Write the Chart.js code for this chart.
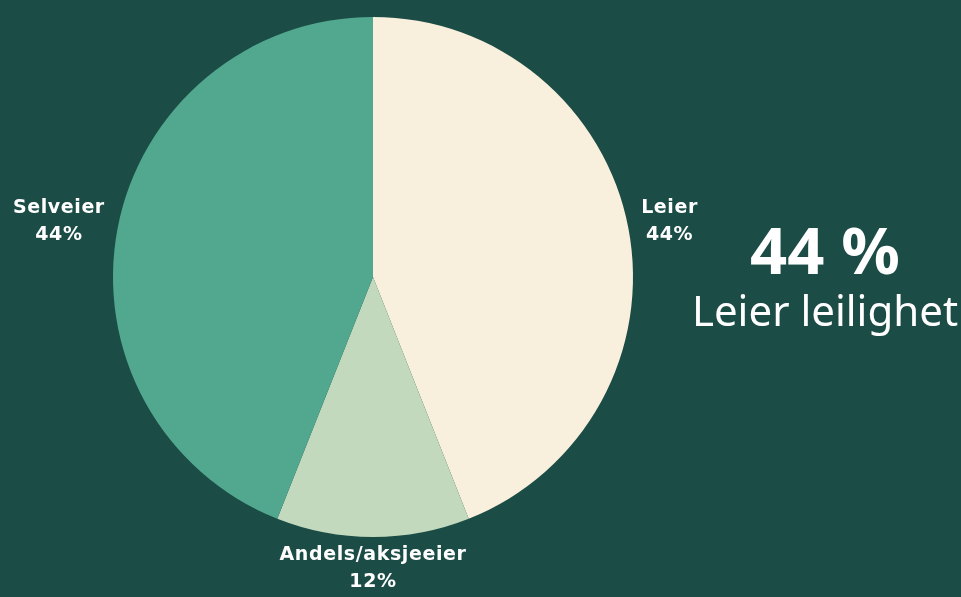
<!DOCTYPE html>
<html>
<head>
<meta charset="utf-8">
<script src="https://cdn.jsdelivr.net/npm/chart.js@4.4.1/dist/chart.umd.min.js"></script>
<style>
  html, body { margin: 0; padding: 0; background: #1b4c46; overflow: hidden; }
  #wrap { position: relative; width: 961px; height: 597px; }
  #big { position: absolute; left: 700px; top: 209px; width: 250px; text-align: center; color: #fff; font-family: "Noto Sans", sans-serif; }
  #big .num { font-size: 65px; font-weight: 700; line-height: 80px; }
  #big .sub { font-size: 42px; font-weight: 400; line-height: 50px; margin-left: -10px; width: 270px; margin-top: -4px; }
</style>
</head>
<body>
<div id="wrap">
  <canvas id="pieChart" width="961" height="597"></canvas>
  <div id="big"><div class="num">44 %</div><div class="sub">Leier leilighet</div></div>
</div>
<script>
// data
const labels = ['Leier', 'Andels/aksjeeier', 'Selveier'];
const values = [44, 12, 44];
const colors = ['#f8efdd', '#c2d9bd', '#52a78f'];

// draws "Label / NN%" just outside each slice
const outsideLabels = {
  id: 'outsideLabels',
  afterDatasetsDraw(chart) {
    const ctx = chart.ctx;
    const meta = chart.getDatasetMeta(0);
    ctx.save();
    ctx.font = 'bold 19px "DejaVu Sans", sans-serif';
    ctx.letterSpacing = '0.6px';
    ctx.fillStyle = '#ffffff';
    ctx.textAlign = 'center';
    ctx.textBaseline = 'top';
    meta.data.forEach((arc, i) => {
      const mid = (arc.startAngle + arc.endAngle) / 2;
      const r = arc.outerRadius + 13;
      const ax = arc.x + Math.cos(mid) * r;
      const ay = arc.y + Math.sin(mid) * r;
      const lines = [labels[i], values[i] + '%'];
      const w = Math.max(...lines.map(l => ctx.measureText(l).width));
      const lh = 27;
      const h = lh * lines.length;
      const c = Math.cos(mid), s = Math.sin(mid);
      let cx = ax, top = ay - h / 2;
      if (Math.abs(c) > 0.5) {
        cx = ax + (c > 0 ? w / 2 : -w / 2);
      } else {
        top = s > 0 ? ay - 4 : ay - h;
      }
      lines.forEach((l, j) => ctx.fillText(l, cx, top + j * lh));
    });
    ctx.restore();
  }
};

new Chart(document.getElementById('pieChart'), {
  type: 'pie',
  data: {
    labels: labels,
    datasets: [{
      data: values,
      backgroundColor: colors,
      borderWidth: 0
    }]
  },
  options: {
    responsive: false,
    animation: false,
    layout: { padding: { left: 113, right: 328, top: 17, bottom: 60 } },
    plugins: {
      legend: { display: false },
      tooltip: { enabled: false }
    }
  },
  plugins: [outsideLabels]
});
</script>
</body>
</html>
